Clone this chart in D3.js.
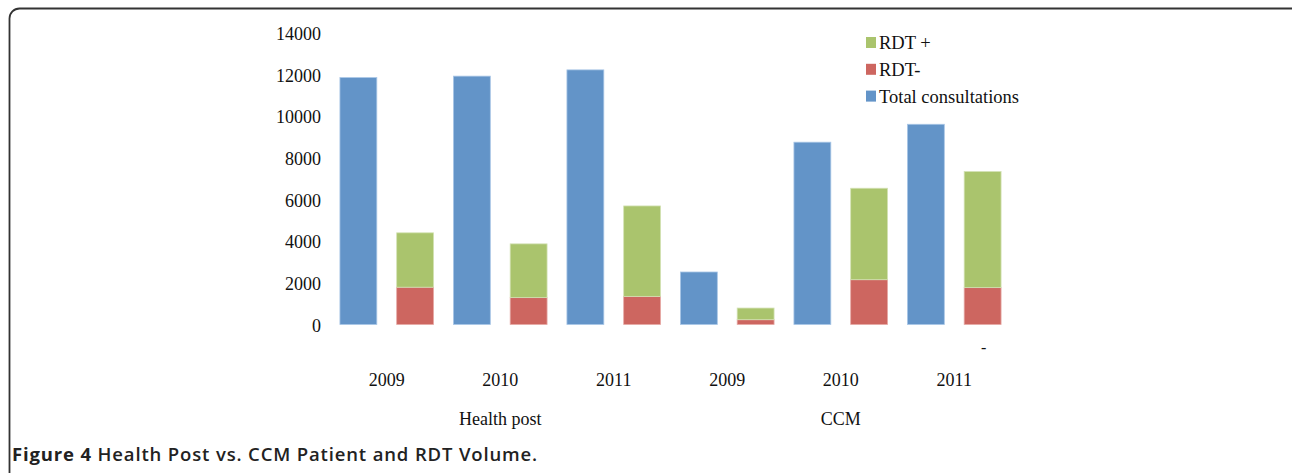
<!DOCTYPE html>
<html>
<head>
<meta charset="utf-8">
<script src="https://cdn.jsdelivr.net/npm/d3@7"></script>
<style>
  body { margin: 0; background: #fff; }
  svg { display: block; }
</style>
</head>
<body>
<script>
// Data
var groups = ["Health post", "CCM"];
var years = ["2009", "2010", "2011", "2009", "2010", "2011"];
var totalConsultations = [11850, 11920, 12220, 2520, 8750, 9610];
var rdtNeg = [1790, 1290, 1350, 230, 2150, 1770];
var rdtPos = [2610, 2580, 4340, 560, 4390, 5570];
var yTicks = [0, 2000, 4000, 6000, 8000, 10000, 12000, 14000];
var legendLabels = ["RDT +", "RDT-", "Total consultations"];

var w = 1292;
var h = 473;
var colors = { total: "#6394c8", neg: "#cd6660", pos: "#aac46d" };

var svg = d3.select("body")
  .append("svg")
  .attr("width", w)
  .attr("height", h);

/*
----Frame----
*/
svg.append("rect")
  .attr("x", 9.5)
  .attr("y", 8.5)
  .attr("width", 1300)
  .attr("height", 480)
  .attr("rx", 10)
  .attr("fill", "none")
  .attr("stroke", "#333")
  .attr("stroke-width", 1.8);

/*
----Scales----
*/
var slots = [];
years.forEach(function(d, i) {
  slots.push(i + "-total");
  slots.push(i + "-rdt");
});

var x = d3.scaleBand()
  .domain(slots)
  .range([330, 1011])
  .paddingInner(0.35)
  .paddingOuter(0.175);

var xCat = d3.scaleBand()
  .domain(d3.range(years.length))
  .range([330, 1011]);

var y = d3.scaleLinear()
  .domain([0, 14000])
  .range([324.5, 32.8]);

var serif = "'Liberation Serif', 'Times New Roman', serif";

/*
----Y axis (no line, labels only)----
*/
var yAxis = d3.axisLeft(y)
  .tickValues(yTicks)
  .tickFormat(d3.format("d"))
  .tickSize(0)
  .tickPadding(0);

var yg = svg.append("g")
  .attr("transform", "translate(321,1)")
  .call(yAxis);
yg.select(".domain").remove();
yg.selectAll("text")
  .attr("font-family", serif)
  .attr("font-size", 18)
  .attr("fill", "#111");

/*
----Bars----
*/
svg.selectAll(".total")
  .data(totalConsultations)
  .enter()
  .append("rect")
  .attr("class", "total")
  .attr("x", function(d, i) { return x(i + "-total"); })
  .attr("width", x.bandwidth())
  .attr("y", function(d) { return y(d); })
  .attr("height", function(d) { return y(0) - y(d); })
  .attr("fill", colors.total)
  .attr("stroke", "#a9c6e6")
  .attr("stroke-width", 0.8);

svg.selectAll(".neg")
  .data(rdtNeg)
  .enter()
  .append("rect")
  .attr("class", "neg")
  .attr("x", function(d, i) { return x(i + "-rdt"); })
  .attr("width", x.bandwidth())
  .attr("y", function(d) { return y(d); })
  .attr("height", function(d) { return y(0) - y(d); })
  .attr("fill", colors.neg)
  .attr("stroke", "#e6aaa6")
  .attr("stroke-width", 0.8);

svg.selectAll(".pos")
  .data(rdtPos)
  .enter()
  .append("rect")
  .attr("class", "pos")
  .attr("x", function(d, i) { return x(i + "-rdt"); })
  .attr("width", x.bandwidth())
  .attr("y", function(d, i) { return y(d + rdtNeg[i]); })
  .attr("height", function(d) { return y(0) - y(d); })
  .attr("fill", colors.pos)
  .attr("stroke", "#d3e2b4")
  .attr("stroke-width", 0.8);

/*
----X labels----
*/
svg.selectAll(".year")
  .data(years)
  .enter()
  .append("text")
  .attr("class", "year")
  .attr("x", function(d, i) { return xCat(i) + xCat.bandwidth() / 2; })
  .attr("y", 386)
  .attr("text-anchor", "middle")
  .attr("font-family", serif)
  .attr("font-size", 18)
  .attr("fill", "#111")
  .text(function(d) { return d; });

svg.selectAll(".group")
  .data(groups)
  .enter()
  .append("text")
  .attr("class", "group")
  .attr("x", function(d, i) { return xCat(i * 3 + 1) + xCat.bandwidth() / 2; })
  .attr("y", 425)
  .attr("text-anchor", "middle")
  .attr("font-family", serif)
  .attr("font-size", 18)
  .attr("fill", "#111")
  .text(function(d) { return d; });

// stray dash under the last bar
svg.append("text")
  .attr("x", x("5-rdt") + x.bandwidth() / 2 + 1)
  .attr("y", 353)
  .attr("text-anchor", "middle")
  .attr("font-family", serif)
  .attr("font-size", 16)
  .attr("fill", "#111")
  .text("-");

/*
----Legend----
*/
var legendColors = [colors.pos, colors.neg, colors.total];
var legend = svg.selectAll(".legend")
  .data(legendLabels)
  .enter()
  .append("g")
  .attr("class", "legend")
  .attr("transform", function(d, i) { return "translate(866," + (43 + i * 26.8) + ")"; });

legend.append("rect")
  .attr("x", 0)
  .attr("y", -6)
  .attr("width", 10)
  .attr("height", 11)
  .attr("fill", function(d, i) { return legendColors[i]; });

legend.append("text")
  .attr("x", 13)
  .attr("y", 6)
  .attr("font-family", serif)
  .attr("font-size", 18.5)
  .attr("fill", "#111")
  .text(function(d) { return d; });

/*
----Caption----
*/
var cap = svg.append("text")
  .attr("x", 12)
  .attr("y", 461)
  .attr("font-family", "'Open Sans', 'Noto Sans', sans-serif")
  .attr("font-size", 18.5)
  .attr("letter-spacing", 0.85)
  .attr("fill", "#222");
cap.append("tspan")
  .attr("font-weight", 700)
  .text("Figure 4");
cap.append("tspan")
  .attr("font-weight", 600)
  .text(" Health Post vs. CCM Patient and RDT Volume.");
</script>
</body>
</html>
